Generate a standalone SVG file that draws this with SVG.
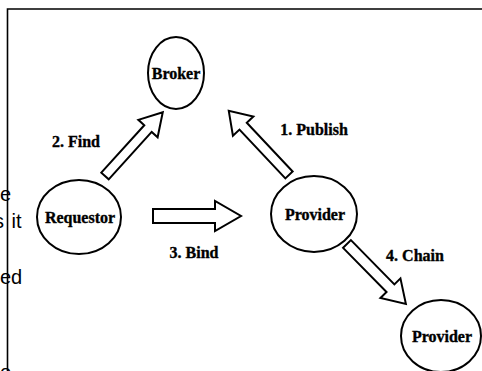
<svg xmlns="http://www.w3.org/2000/svg" width="482" height="371" viewBox="0 0 482 371">
  <style>
    .node { fill: none; stroke: #000; stroke-width: 2; }
    .label { font-family: "Liberation Serif", "Times New Roman", serif; font-weight: bold; font-size: 16px; fill: #000; stroke: #000; stroke-width: 0.35; text-anchor: middle; }
    .arrow { fill: #fff; stroke: #000; stroke-width: 2; stroke-linejoin: miter; }
    .stray { font-family: "Liberation Sans", Arial, sans-serif; font-size: 20px; fill: #000; }
    .frame { fill: none; stroke: #000; stroke-width: 1.6; }
  </style>
  <rect width="482" height="371" fill="#fff"/>

  <!-- text of the surrounding page, cut off at the left edge -->
  <g id="page-text">
    <text class="stray" x="0" y="201">e</text>
    <text class="stray" x="-6" y="228" word-spacing="2">s it</text>
    <text class="stray" x="0" y="284">ed</text>
    <text class="stray" x="0" y="379">o</text>
  </g>

  <!-- figure frame -->
  <path class="frame" d="M7.5,371 V9 H482"/>

  <g id="connectors">
    <!-- 2. Find: Requestor to Broker -->
    <path class="arrow" transform="translate(105,176) rotate(-47.8)" d="M0,-5 H64 V-13 L86,0 L64,13 V5 H0 Z"/>
    <!-- 1. Publish: Provider to Broker -->
    <path class="arrow" transform="translate(289,175) rotate(-133.2)" d="M0,-5 H67 V-14 L88,0 L67,14 V5 H0 Z"/>
    <!-- 3. Bind: Requestor to Provider -->
    <path class="arrow" transform="translate(153,216)" d="M0,-7 H62 V-15 L88,0 L62,15 V7 H0 Z"/>
    <!-- 4. Chain: Provider to Provider -->
    <path class="arrow" transform="translate(347,244) rotate(45.5)" d="M0,-5.5 H62 V-14 L84,0 L62,14 V5.5 H0 Z"/>
    <text class="label" x="76" y="147">2. Find</text>
    <text class="label" x="314" y="135">1. Publish</text>
    <text class="label" x="194" y="258">3. Bind</text>
    <text class="label" x="415" y="261">4. Chain</text>
  </g>

  <g id="broker">
    <ellipse class="node" cx="176" cy="73" rx="28" ry="36"/>
    <text class="label" x="176" y="79" font-size="15">Broker</text>
  </g>
  <g id="requestor">
    <ellipse class="node" cx="79" cy="217" rx="42" ry="37"/>
    <text class="label" x="80" y="223">Requestor</text>
  </g>
  <g id="provider">
    <ellipse class="node" cx="314" cy="214" rx="43" ry="38"/>
    <text class="label" x="315" y="220">Provider</text>
  </g>
  <g id="provider-chained">
    <ellipse class="node" cx="441" cy="336" rx="40" ry="36"/>
    <text class="label" x="442" y="342">Provider</text>
  </g>
</svg>
